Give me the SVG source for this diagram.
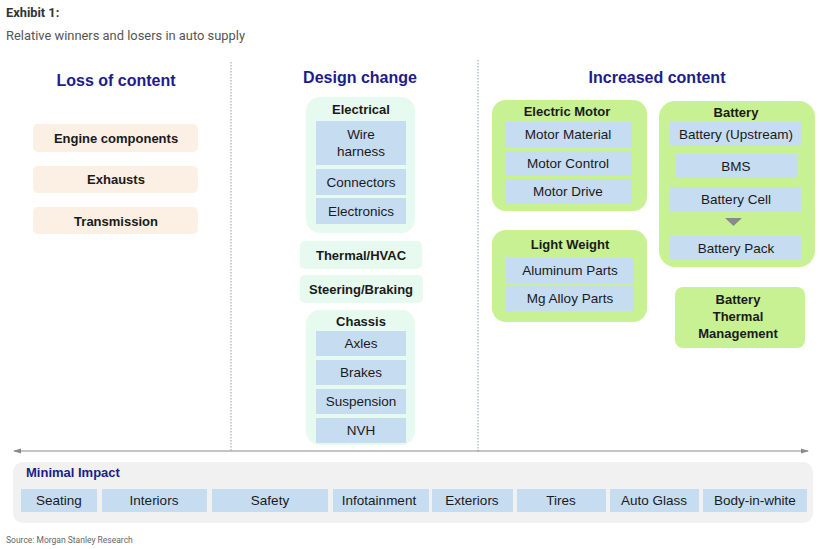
<svg xmlns="http://www.w3.org/2000/svg" width="824" height="549" viewBox="0 0 824 549">
<style>
.t{font-family:"Liberation Sans",Arial,sans-serif;fill:#1a1a1a;text-anchor:middle;font-size:13.5px}
.b{font-weight:bold;font-size:13px}
.hd{font-family:"Liberation Sans",Arial,sans-serif;font-weight:bold;font-size:16px;fill:#1c1c8a;text-anchor:middle}
.peach{fill:#fcefe3}
.mint{fill:#e6faef}
.green{fill:#c8f193}
.blue{fill:#c6dcf1}
.div{stroke:#9db3c4;stroke-width:1.2;stroke-dasharray:1.5 1.5;fill:none}
</style>
<defs>
<marker id="ah" markerWidth="8" markerHeight="8" refX="7" refY="4" orient="auto-start-reverse" markerUnits="userSpaceOnUse">
<path d="M0,1.5 L8,4 L0,6.5 Z" fill="#8a8a8a"/>
</marker>
</defs>
<rect width="824" height="549" fill="#fff"/>
<text x="6" y="17" font-family="Roboto,sans-serif" font-weight="bold" font-size="12.8" fill="#333">Exhibit 1:</text>
<text x="6" y="40" font-family="Roboto,sans-serif" font-size="12.9" fill="#555">Relative winners and losers in auto supply</text>

<g id="connectors">
<line class="div" x1="231" y1="62" x2="231" y2="452"/>
<line class="div" x1="478" y1="60" x2="478" y2="452"/>
<line x1="14" y1="451" x2="808" y2="451" stroke="#8a8a8a" stroke-width="1.2" marker-start="url(#ah)" marker-end="url(#ah)"/>
</g>

<g id="headers">
<text class="hd" x="116" y="86">Loss of content</text>
<text class="hd" x="360" y="83">Design change</text>
<text class="hd" x="657" y="83">Increased content</text>
</g>

<g id="engine"><rect class="peach" x="33" y="124" width="165" height="28" rx="5"/><text class="t b" x="116" y="143">Engine  components</text></g>
<g id="exhausts"><rect class="peach" x="33" y="166" width="165" height="27" rx="5"/><text class="t b" x="116" y="184">Exhausts</text></g>
<g id="transmission"><rect class="peach" x="33" y="207" width="165" height="27" rx="5"/><text class="t b" x="116" y="226">Transmission</text></g>

<g id="electrical">
<rect class="mint" x="306" y="97" width="109" height="136" rx="14"/>
<text class="t b" x="361" y="114">Electrical</text>
<rect class="blue" x="316" y="121" width="90" height="44"/>
<text class="t" x="361" y="139">Wire</text>
<text class="t" x="361" y="156">harness</text>
<rect class="blue" x="316" y="169" width="90" height="26"/>
<text class="t" x="361" y="187">Connectors</text>
<rect class="blue" x="316" y="198" width="90" height="26"/>
<text class="t" x="361" y="216">Electronics</text>
</g>

<g id="thermal"><rect class="mint" x="300" y="241" width="122" height="28" rx="5"/><text class="t b" x="361" y="260">Thermal/HVAC</text></g>
<g id="steering"><rect class="mint" x="300" y="275" width="123" height="28" rx="5"/><text class="t b" x="361" y="294">Steering/Braking</text></g>

<g id="chassis">
<rect class="mint" x="306" y="310" width="109" height="135" rx="14"/>
<text class="t b" x="361" y="326">Chassis</text>
<rect class="blue" x="316" y="331" width="90" height="25"/>
<text class="t" x="361" y="348">Axles</text>
<rect class="blue" x="316" y="360" width="90" height="25"/>
<text class="t" x="361" y="377">Brakes</text>
<rect class="blue" x="316" y="389" width="90" height="25"/>
<text class="t" x="361" y="406">Suspension</text>
<rect class="blue" x="316" y="418" width="90" height="25"/>
<text class="t" x="361" y="435">NVH</text>
</g>

<g id="electric-motor">
<rect class="green" x="492" y="100" width="155" height="111" rx="14"/>
<text class="t b" x="567" y="116">Electric Motor</text>
<rect class="blue" x="505" y="122" width="127" height="25"/>
<text class="t" x="568" y="139">Motor  Material</text>
<rect class="blue" x="505" y="151" width="127" height="25"/>
<text class="t" x="568" y="168">Motor  Control</text>
<rect class="blue" x="505" y="179" width="127" height="25"/>
<text class="t" x="568" y="196">Motor  Drive</text>
</g>

<g id="battery">
<rect class="green" x="659" y="101" width="156" height="166" rx="16"/>
<text class="t b" x="736" y="117">Battery</text>
<rect class="blue" x="670" y="122" width="131" height="24"/>
<text class="t" x="736" y="139">Battery (Upstream)</text>
<rect class="blue" x="676" y="154" width="121" height="24"/>
<text class="t" x="736" y="171">BMS</text>
<rect class="blue" x="670" y="187" width="131" height="25"/>
<text class="t" x="736" y="204">Battery  Cell</text>
<path d="M725,218 L742,218 L733.5,226 Z" fill="#8a8a8a"/>
<rect class="blue" x="670" y="236" width="131" height="24"/>
<text class="t" x="736" y="253">Battery  Pack</text>
</g>

<g id="light-weight">
<rect class="green" x="492" y="230" width="155" height="92" rx="14"/>
<text class="t b" x="570" y="249">Light Weight</text>
<rect class="blue" x="506" y="258" width="128" height="25"/>
<text class="t" x="570" y="275">Aluminum  Parts</text>
<rect class="blue" x="506" y="286" width="128" height="25"/>
<text class="t" x="570" y="303">Mg Alloy Parts</text>
</g>

<g id="battery-thermal">
<rect class="green" x="675" y="287" width="130" height="61" rx="8"/>
<text class="t b" x="738" y="304">Battery</text>
<text class="t b" x="738" y="321">Thermal</text>
<text class="t b" x="738" y="338">Management</text>
</g>

<g id="minimal-impact">
<rect x="13" y="462" width="800" height="61" rx="10" fill="#f1f1f1"/>
<text x="26" y="477" font-family="Liberation Sans,Arial,sans-serif" font-weight="bold" font-size="13" fill="#1c1c8a">Minimal  Impact</text>
<rect class="blue" x="21" y="489" width="76" height="23"/><text class="t" x="59" y="505">Seating</text>
<rect class="blue" x="102" y="489" width="105" height="23"/><text class="t" x="154" y="505">Interiors</text>
<rect class="blue" x="212" y="489" width="116" height="23"/><text class="t" x="270" y="505">Safety</text>
<rect class="blue" x="333" y="489" width="96" height="23"/><text class="t" x="379" y="505">Infotainment</text>
<rect class="blue" x="432" y="489" width="81" height="23"/><text class="t" x="472" y="505">Exteriors</text>
<rect class="blue" x="517" y="489" width="89" height="23"/><text class="t" x="561" y="505">Tires</text>
<rect class="blue" x="610" y="489" width="89" height="23"/><text class="t" x="654" y="505">Auto Glass</text>
<rect class="blue" x="703" y="489" width="104" height="23"/><text class="t" x="755" y="505">Body-in-white</text>
</g>

<text x="6" y="543" font-family="Roboto,sans-serif" font-size="8.5" fill="#666">Source: Morgan Stanley Research</text>
</svg>
